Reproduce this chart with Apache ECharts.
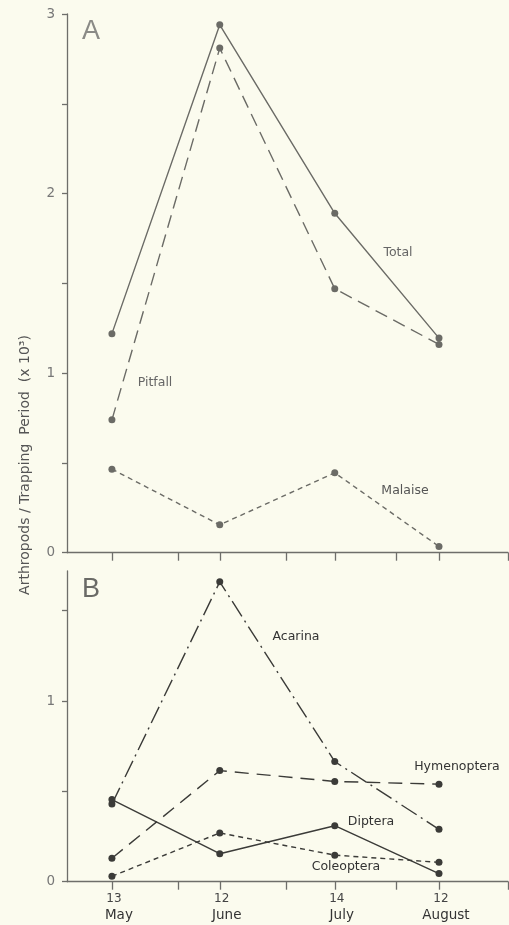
<!DOCTYPE html>
<html>
<head>
<meta charset="utf-8">
<script src="https://cdn.jsdelivr.net/npm/echarts@6/dist/echarts.min.js"></script>
<style>
html,body{margin:0;padding:0;background:#fbfbee;}
#c{width:509px;height:925px;}
</style>
</head>
<body>
<div id="c"></div>
<script>
// Sampling dates as day-of-year
const sampleDays = [133, 163, 195, 224];
const sampleDayNums = ['13', '12', '14', '12'];
const sampleMonths = ['May', 'June', 'July', 'August'];
const monthStartTicks = [151.4, 181.4, 212.1];
const xMin = 120.5, xMax = 243.2;

// Panel A (x 10^3)
const total   = [1.22, 2.94, 1.89, 1.195];
const pitfall = [0.74, 2.81, 1.47, 1.16];
const malaise = [0.465, 0.155, 0.445, 0.035];

// Panel B (x 10^3)
const acarina     = [0.43, 1.66, 0.665, 0.29];
const hymenoptera = [0.13, 0.615, 0.555, 0.54];
const diptera     = [0.455, 0.155, 0.31, 0.045];
const coleoptera  = [0.03, 0.27, 0.147, 0.107];

const yTicksA = [0, 0.5, 1, 1.5, 2, 2.5, 3];
const yLabelsA = [0, 1, 2, 3];
const yTicksB = [0, 0.5, 1, 1.5];
const yLabelsB = [0, 1];

const pairs = arr => sampleDays.map((d, i) => [d, arr[i]]);
const colA = '#6b6b66', colB = '#3b3b38', axCol = '#6e6e6a';
const font = 'DejaVu Sans';

const chart = echarts.init(document.getElementById('c'), null, {renderer: 'canvas'});

function xAxis(gi, showLabels) {
  return {
    type: 'value', gridIndex: gi, min: xMin, max: xMax,
    splitLine: {show: false},
    axisLine: {show: true, onZero: false, lineStyle: {color: axCol, width: 1.3}},
    axisTick: {show: true, length: 8, inside: false, lineStyle: {color: axCol, width: 1.3},
      customValues: sampleDays.concat(monthStartTicks).concat([xMax])},
    axisLabel: {show: showLabels, customValues: sampleDays, margin: 9,
      formatter: v => {
        const i = sampleDays.indexOf(v);
        return i < 0 ? '' : '{d|' + sampleDayNums[i] + '}\n{m|' + sampleMonths[i] + '}';
      },
      rich: {
        d: {fontFamily: font, fontSize: 12, color: '#444', lineHeight: 16, padding: [0, 0, 0, 4]},
        m: {fontFamily: font, fontSize: 13.5, color: '#333', lineHeight: 17, padding: [0, 0, 0, 14]}
      }
    }
  };
}
function yAxis(gi, max, ticks, labels) {
  return {
    type: 'value', gridIndex: gi, min: 0, max: max,
    splitLine: {show: false},
    axisLine: {show: true, lineStyle: {color: axCol, width: 1.3}},
    axisTick: {show: true, length: 5, lineStyle: {color: axCol, width: 1.3}, customValues: ticks},
    axisLabel: {customValues: labels, margin: 12, fontFamily: font, fontSize: 13.5, color: '#777',
      formatter: v => String(v)}
  };
}
function line(name, data, gi, color, type) {
  return {
    name: name, type: 'line', xAxisIndex: gi, yAxisIndex: gi, data: pairs(data),
    symbol: 'circle', symbolSize: 7, showSymbol: true,
    itemStyle: {color: color},
    lineStyle: {color: color, width: 1.4, type: type},
    animation: false
  };
}
const lbl = (text, x, y, fill) => ({type: 'text', x: x, y: y,
  style: {text: text, font: '12.5px "DejaVu Sans"', fill: fill, align: 'center', verticalAlign: 'middle'}});

chart.setOption({
  backgroundColor: '#fbfbee',
  animation: false,
  grid: [
    {left: 67, top: 14, width: 441, height: 538.7},
    {left: 67, top: 571, width: 441, height: 310.7}
  ],
  xAxis: [xAxis(0, false), xAxis(1, true)],
  yAxis: [yAxis(0, 3, yTicksA, yLabelsA), yAxis(1, 1.72, yTicksB, yLabelsB)],
  series: [
    line('Total', total, 0, colA, 'solid'),
    line('Pitfall', pitfall, 0, colA, [13, 7]),
    line('Malaise', malaise, 0, colA, [5, 4]),
    line('Acarina', acarina, 1, colB, [18, 5, 2, 5]),
    line('Hymenoptera', hymenoptera, 1, colB, [14, 8]),
    line('Diptera', diptera, 1, colB, 'solid'),
    line('Coleoptera', coleoptera, 1, colB, [5, 4])
  ],
  graphic: [
    {type: 'text', left: 82, top: 18, style: {text: 'A', font: '300 27px "Liberation Sans"', fill: '#8a8a86'}},
    {type: 'text', left: 82, top: 576, style: {text: 'B', font: '300 27px "Liberation Sans"', fill: '#6a6a66'}},
    lbl('Total', 398, 253, '#666'),
    lbl('Pitfall', 155, 383, '#666'),
    lbl('Malaise', 405, 491, '#555'),
    lbl('Acarina', 296, 637, '#333'),
    lbl('Hymenoptera', 457, 767, '#333'),
    lbl('Diptera', 371, 822, '#333'),
    lbl('Coleoptera', 346, 867, '#333'),
    {type: 'text', x: 25, y: 465, rotation: Math.PI / 2,
      style: {text: 'Arthropods / Trapping  Period  (x 10³)', font: '14px "DejaVu Sans"', fill: '#555', align: 'center', verticalAlign: 'middle'}}
  ]
});
</script>
</body>
</html>
